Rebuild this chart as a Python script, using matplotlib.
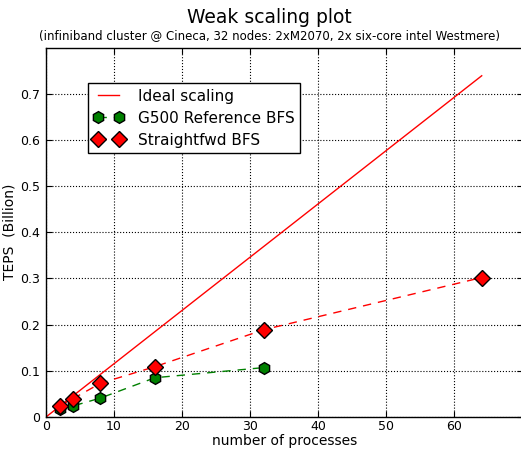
import matplotlib
matplotlib.use("Agg")
import matplotlib.pyplot as plt

procs_ideal = [0, 2, 4, 8, 16, 32, 64]
ideal_teps = [0.0, 0.0231, 0.0462, 0.0924, 0.1848, 0.3695, 0.739]

procs_g500 = [2, 4, 8, 16, 32]
g500_teps = [0.018, 0.024, 0.041, 0.085, 0.107]

procs_sf = [2, 4, 8, 16, 32, 64]
sf_teps = [0.023, 0.040, 0.073, 0.109, 0.189, 0.302]

xticks = [0, 10, 20, 30, 40, 50, 60]
yticks = [0, 0.1, 0.2, 0.3, 0.4, 0.5, 0.6, 0.7]
ytick_labels = ["0", "0.1", "0.2", "0.3", "0.4", "0.5", "0.6", "0.7"]

plt.rcParams['font.family'] = ['DejaVu Sans']
fig = plt.figure(figsize=(5.21, 4.49), dpi=100)
fig.patch.set_facecolor('white')
ax = fig.add_axes([0.0883, 0.0713, 0.9147, 0.8227])

ax.plot(procs_ideal, ideal_teps, '-', color='red', lw=1.0, label='Ideal scaling')
ax.plot(procs_g500, g500_teps, '--', color='green', lw=1.0, dashes=(6, 5),
        marker='h', markersize=8.5, markerfacecolor='green', markeredgecolor='black',
        markeredgewidth=1.0, label='G500 Reference BFS', zorder=3)
ax.plot(procs_sf, sf_teps, '--', color='red', lw=1.0, dashes=(6, 5),
        marker='D', markersize=8, markerfacecolor='red', markeredgecolor='black',
        markeredgewidth=1.0, label='Straightfwd BFS', zorder=4)

ax.set_xlim(0, 70)
ax.set_ylim(0, 0.8)
ax.set_xticks(xticks)
ax.set_yticks(yticks)
ax.set_yticklabels(ytick_labels)
ax.tick_params(direction='in', top=True, right=True, labelsize=9, length=4, pad=2)
ax.tick_params(axis='y', pad=4)
ax.grid(True, linestyle=':', color='black', linewidth=0.8)
ax.set_axisbelow(True)
for s in ax.spines.values():
    s.set_linewidth(1.0)

ax.set_xlabel('number of processes', fontsize=10, labelpad=1)
ax.set_ylabel('TEPS  (Billion)', fontsize=10, labelpad=3)

leg = ax.legend(loc='upper left', bbox_to_anchor=(0.088, 0.903), fontsize=11,
                numpoints=2, fancybox=False, framealpha=1, edgecolor='black',
                borderpad=0.35, handlelength=2.0, labelspacing=0.45, borderaxespad=0,
                handletextpad=0.9)
leg.get_frame().set_linewidth(1.0)

fig.text(0.517, 0.960, 'Weak scaling plot', ha='center', va='center', fontsize=13.5)
fig.text(0.517, 0.921, '(infiniband cluster @ Cineca, 32 nodes: 2xM2070, 2x six-core intel Westmere)',
         ha='center', va='center', fontsize=8.5)

fig.savefig('out.png', dpi=100, facecolor='white')
